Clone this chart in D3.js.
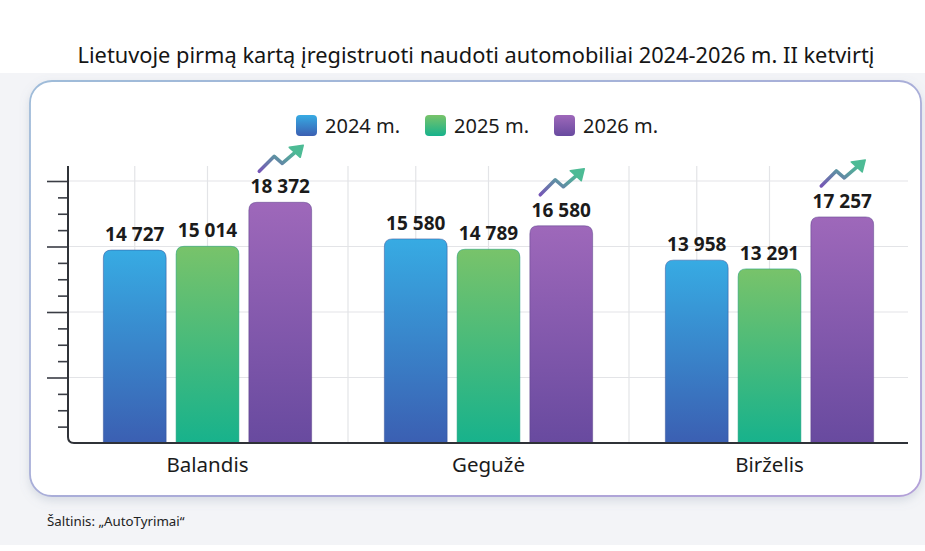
<!DOCTYPE html>
<meta charset="utf-8">
<body>
<script src="https://cdn.jsdelivr.net/npm/d3@7"></script>
<style>
    html, body {
        margin: 0;
        background: #fff;
    }
    text {
        font-family: "Noto Sans", "Open Sans", sans-serif;
    }
</style>
<script>
var categories = ["Balandis", "Gegužė", "Birželis"],
    years = ["2024 m.", "2025 m.", "2026 m."],
    v2024 = [14727, 15580, 13958],
    v2025 = [15014, 14789, 13291],
    v2026 = [18372, 16580, 17257],
    majorTicks = [5000, 10000, 15000, 20000],
    title = "Lietuvoje pirmą kartą įregistruoti naudoti automobiliai 2024-2026 m. II ketvirtį",
    source = "Šaltinis: „AutoTyrimai“";

var width = 925,
    height = 551,
    colors = [["#37abe3", "#3b5fb2"], ["#78c36a", "#17b28c"], ["#9e68ba", "#684a9f"]];

var series = [v2024, v2025, v2026];
var data = [];
categories.forEach(function(c, i) {
    years.forEach(function(y, j) {
        data.push({cat: c, year: y, j: j, value: series[j][i]});
    });
});

var svg = d3.select("body").append("svg")
    .attr("width", width)
    .attr("height", height);

var defs = svg.append("defs");

colors.forEach(function(c, j) {
    var lg = defs.append("linearGradient")
        .attr("id", "g" + j)
        .attr("x1", 0).attr("y1", 0).attr("x2", 0).attr("y2", 1);
    lg.append("stop").attr("offset", "0%").attr("stop-color", c[0]);
    lg.append("stop").attr("offset", "100%").attr("stop-color", c[1]);
});

var ag = defs.append("linearGradient").attr("id", "arrowGrad")
    .attr("x1", 0).attr("y1", 1).attr("x2", 1).attr("y2", 0);
ag.append("stop").attr("offset", "0%").attr("stop-color", "#7656b6");
ag.append("stop").attr("offset", "100%").attr("stop-color", "#4dbb95");

var cg = defs.append("linearGradient").attr("id", "cardStroke")
    .attr("x1", 0).attr("y1", 0).attr("x2", 1).attr("y2", 1);
cg.append("stop").attr("offset", "0%").attr("stop-color", "#9fbcd9");
cg.append("stop").attr("offset", "100%").attr("stop-color", "#b3a0d8");

var shadow = defs.append("filter").attr("id", "shadow")
    .attr("x", "-5%").attr("y", "-5%").attr("width", "110%").attr("height", "115%");
shadow.append("feDropShadow")
    .attr("dx", 0).attr("dy", 4).attr("stdDeviation", 5)
    .attr("flood-color", "#8090a8").attr("flood-opacity", 0.25);

// page background + card
svg.append("rect")
    .attr("x", 0).attr("y", 73)
    .attr("width", width).attr("height", 472)
    .attr("fill", "#f3f4f7");

svg.append("rect")
    .attr("x", 30).attr("y", 81)
    .attr("width", 891).attr("height", 415)
    .attr("rx", 22)
    .attr("fill", "#fff")
    .attr("stroke", "url(#cardStroke)")
    .attr("stroke-width", 1.8)
    .attr("filter", "url(#shadow)");

svg.append("text")
    .attr("x", 476).attr("y", 63)
    .attr("text-anchor", "middle")
    .attr("font-size", 21.8)
    .attr("fill", "#151515")
    .text(title);

svg.append("text")
    .attr("x", 47).attr("y", 526)
    .attr("font-size", 13.3)
    .attr("fill", "#222")
    .text(source);

// scales
var x = d3.scaleBand()
    .domain(categories)
    .range([67, 910]);

var xi = d3.scaleBand()
    .domain(years)
    .range([0, x.bandwidth()])
    .paddingInner(0.137)
    .paddingOuter(0.5);

var y = d3.scaleLinear()
    .domain([0, 20000])
    .range([443, 181]);

var axisX = 68, baseY = y(0), topY = 166, rightX = 908;

// grid
var grid = svg.append("g").attr("stroke", "#e3e4e7").attr("stroke-width", 1.2);
grid.selectAll(".h")
    .data(majorTicks)
    .enter().append("line")
    .attr("x1", axisX).attr("x2", rightX)
    .attr("y1", function(d) { return y(d); })
    .attr("y2", function(d) { return y(d); });

var vlines = [];
categories.forEach(function(c, i) {
    if (i > 0) vlines.push(x(c));
    vlines.push(x(c) + xi(years[0]) + xi.bandwidth() / 2);
    vlines.push(x(c) + xi(years[1]) + xi.bandwidth() / 2);
});
grid.selectAll(".v")
    .data(vlines)
    .enter().append("line")
    .attr("x1", function(d) { return d; })
    .attr("x2", function(d) { return d; })
    .attr("y1", topY).attr("y2", baseY);

// y axis ticks (no labels)
var minorTicks = d3.range(1250, 20001, 1250).filter(function(d) { return d % 5000 !== 0; });

svg.append("g")
    .attr("transform", "translate(" + axisX + ",0)")
    .call(d3.axisLeft(y).tickValues(minorTicks).tickSize(10).tickFormat(""))
    .call(function(g) {
        g.select(".domain").remove();
        g.selectAll("line").attr("stroke", "#3a3d45").attr("stroke-width", 1.6);
    });

svg.append("g")
    .attr("transform", "translate(" + axisX + ",0)")
    .call(d3.axisLeft(y).tickValues(majorTicks).tickSize(21).tickFormat(""))
    .call(function(g) {
        g.select(".domain").remove();
        g.selectAll("line").attr("stroke", "#3a3d45").attr("stroke-width", 1.6);
    });

// bars
function barPath(x0, w, yTop, yBot, r) {
    return "M" + x0 + "," + yBot +
        "V" + (yTop + r) +
        "Q" + x0 + "," + yTop + " " + (x0 + r) + "," + yTop +
        "H" + (x0 + w - r) +
        "Q" + (x0 + w) + "," + yTop + " " + (x0 + w) + "," + (yTop + r) +
        "V" + yBot + "Z";
}

var bars = svg.append("g");
bars.selectAll("path")
    .data(data)
    .enter().append("path")
    .attr("d", function(d) {
        return barPath(x(d.cat) + xi(d.year), xi.bandwidth(), y(d.value), baseY, 8);
    })
    .attr("fill", function(d) { return "url(#g" + d.j + ")"; })
    .attr("stroke", function(d) { return d3.color(colors[d.j][1]).darker(0.4); })
    .attr("stroke-opacity", 0.5)
    .attr("stroke-width", 1);

// axis line with rounded corner + baseline
svg.append("path")
    .attr("d", "M" + axisX + "," + topY + "V" + (baseY - 6) +
        "Q" + axisX + "," + baseY + " " + (axisX + 6) + "," + baseY + "H" + rightX)
    .attr("fill", "none")
    .attr("stroke", "#2f3238")
    .attr("stroke-width", 2);

// value labels
svg.append("g").selectAll("text")
    .data(data)
    .enter().append("text")
    .attr("x", function(d) { return x(d.cat) + xi(d.year) + xi.bandwidth() / 2; })
    .attr("y", function(d) { return y(d.value) - 9; })
    .attr("text-anchor", "middle")
    .attr("font-size", 19)
    .attr("font-weight", 700)
    .attr("fill", "#1b1b1b")
    .text(function(d) { return d3.format(",")(d.value).replace(/,/g, " "); });

// trend arrows above 2026 bars
var arrows = svg.append("g").selectAll("g")
    .data(data.filter(function(d) { return d.j === 2; }))
    .enter().append("g")
    .attr("transform", function(d) {
        return "translate(" + (x(d.cat) + xi(d.year) + xi.bandwidth() / 2) + "," + y(d.value) + ")";
    });

arrows.append("path")
    .attr("d", "M-21,-31L-6,-46L2,-39L16,-51")
    .attr("fill", "none")
    .attr("stroke", "url(#arrowGrad)")
    .attr("stroke-width", 3.5)
    .attr("stroke-linecap", "round")
    .attr("stroke-linejoin", "round");

arrows.append("path")
    .attr("d", "M23,-57L9,-55L20,-45Z")
    .attr("fill", "#4dbb95")
    .attr("stroke", "#4dbb95")
    .attr("stroke-width", 1.5)
    .attr("stroke-linejoin", "round");

// category labels
svg.append("g").selectAll("text")
    .data(categories)
    .enter().append("text")
    .attr("x", function(d) { return x(d) + x.bandwidth() / 2; })
    .attr("y", 472)
    .attr("text-anchor", "middle")
    .attr("font-size", 20.5)
    .attr("fill", "#1b1b1b")
    .text(function(d) { return d; });

// legend
var legendX = [296, 425, 554];
var legend = svg.append("g").selectAll("g")
    .data(years)
    .enter().append("g")
    .attr("transform", function(d, i) { return "translate(" + legendX[i] + ",115)"; });

legend.append("rect")
    .attr("width", 21).attr("height", 21)
    .attr("rx", 4)
    .attr("fill", function(d, i) { return "url(#g" + i + ")"; });

legend.append("text")
    .attr("x", 29).attr("y", 18)
    .attr("font-size", 20)
    .attr("fill", "#1b1b1b")
    .text(function(d) { return d; });
</script>
